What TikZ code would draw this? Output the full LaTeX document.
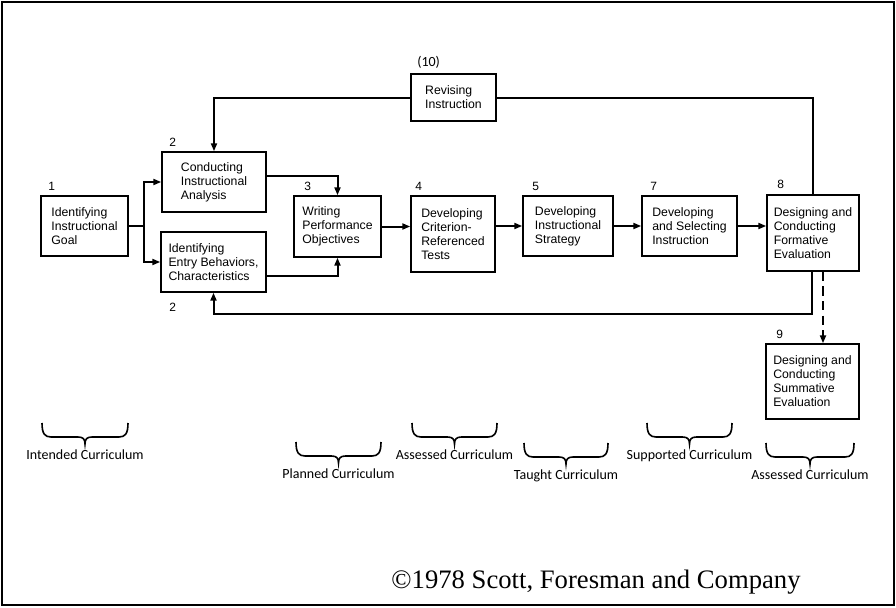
\documentclass[tikz,border=0pt]{standalone}
\usepackage{fontspec}
\usepackage{amsmath}
\usetikzlibrary{arrows.meta}
\newfontfamily\boxfont{Liberation Sans}
\newfontfamily\curfont{Carlito}
\newfontfamily\copyfont{Liberation Serif}

\begin{document}
\begin{tikzpicture}[x=0.75pt,y=0.75pt,yscale=-1,xscale=1,
	box/.style={draw, line width=1.1pt, align=left, inner sep=0pt, font={\boxfont\fontsize{9.2}{10.5}\selectfont}},
	num/.style={anchor=north west, inner sep=0.75pt, font={\boxfont\fontsize{9}{10.5}\selectfont}},
	plain/.style={line width=1.5pt},
	conn/.style={line width=1.5pt, -{Triangle[length=6pt,width=4.5pt]}},
	brace/.style={line width=1.2pt},
	curlab/.style={anchor=north, inner sep=0.75pt, font={\curfont\fontsize{10.5}{12}\selectfont}}]
	\useasboundingbox (0,0) rectangle (896,607);
	\draw [line width=2pt] (2,2) rectangle (894,605);
	\draw (84.5,226) node [box, minimum width=65.25pt, minimum height=45pt] (goal) {Identifying\\Instructional\\Goal};
	\draw (214,182) node [box, minimum width=78pt, minimum height=45pt] (analysis) {Conducting\\Instructional\\Analysis};
	\draw (213.5,262) node [box, minimum width=78.75pt, minimum height=45pt] (entry) {Identifying\\Entry Behaviors,\\Characteristics};
	\draw (337.5,226.5) node [box, minimum width=65.25pt, minimum height=45.75pt] (objectives) {Writing\\Performance\\Objectives};
	\draw (453,234) node [box, minimum width=63pt, minimum height=57pt] (tests) {Developing\\Criterion-\\Referenced\\Tests};
	\draw (568,226) node [box, minimum width=67.5pt, minimum height=45pt] (strategy) {Developing\\Instructional\\Strategy};
	\draw (689.5,226) node [box, minimum width=71.25pt, minimum height=45pt] (selecting) {Developing\\and Selecting\\Instruction};
	\draw (813,233) node [box, minimum width=69pt, minimum height=57pt] (formative) {Designing and\\Conducting\\Formative\\Evaluation};
	\draw (812.5,381.5) node [box, minimum width=69.75pt, minimum height=56.25pt] (summative) {Designing and\\Conducting\\Summative\\Evaluation};
	\draw (453.5,97.5) node [box, minimum width=63.75pt, minimum height=35.25pt] (revising) {Revising\\Instruction};
	\draw (47,181) node [num] (n1) {1};
	\draw (168,137) node [num] (n2a) {2};
	\draw (168,302) node [num] (n2b) {2};
	\draw (303,181) node [num] (n3) {3};
	\draw (414,181) node [num] (n4) {4};
	\draw (531,181) node [num] (n5) {5};
	\draw (649,181) node [num] (n7) {7};
	\draw (776,179) node [num] (n8) {8};
	\draw (775,329) node [num] (n9) {9};
	\draw (416,55) node [num, font={\curfont\fontsize{10.5}{12}\selectfont}] (n10) {(10)};
	\coordinate (split) at (144,226);
	\draw [plain] (goal) -- (split);
	\draw [conn] (split) |- (analysis);
	\draw [conn] (split) |- (entry);
	\draw [conn] (analysis.east) ++(0,-6) -| (objectives);
	\draw [conn] (entry.east) ++(0,14) -| (objectives);
	\draw [conn] (objectives.east) -- (objectives.east -| tests.west);
	\draw [conn] (strategy.west -| tests.east) -- (strategy);
	\draw [conn] (strategy) -- (selecting);
	\draw [conn] (selecting) -- (selecting -| formative.west);
	\draw [plain] (formative) |- (revising);
	\draw [conn] (revising) -| (analysis);
	\draw [conn] (formative.south) ++(-1,0) -- ++(0,42) -| (entry);
	\draw [conn, dash pattern=on 7pt off 4pt] (formative.south) ++(10,0) coordinate (dsh) -- (dsh |- summative.north);
	\foreach \xa/\xb/\yt/\lab/\nm in {42/128/423/Intended Curriculum/intended, 296/381/442/Planned Curriculum/planned, 412/497/423/Assessed Curriculum/assessedA, 524/608/443/Taught Curriculum/taught, 647/732/423/Supported Curriculum/supported, 766/854/443/Assessed Curriculum/assessedB}
	{
		\pgfmathsetmacro\xm{(\xa+\xb)/2}
		\draw [brace] (\xa,\yt) .. controls (\xa,\yt+11) and (\xa+3,\yt+14) .. (\xa+9,\yt+14) -- (\xm-7,\yt+14) .. controls (\xm-2,\yt+14) and (\xm,\yt+16) .. (\xm,\yt+21) .. controls (\xm,\yt+16) and (\xm+2,\yt+14) .. (\xm+7,\yt+14) -- (\xb-9,\yt+14) .. controls (\xb-3,\yt+14) and (\xb,\yt+11) .. (\xb,\yt);
		\draw (\xm,\yt+26) node [curlab] (\nm) {\lab};
	}
	\draw (596,588) node [anchor=base, inner sep=0pt, font={\copyfont\fontsize{20}{24}\selectfont}] (copyright) {©1978 Scott, Foresman and Company};
\end{tikzpicture}
\end{document}
